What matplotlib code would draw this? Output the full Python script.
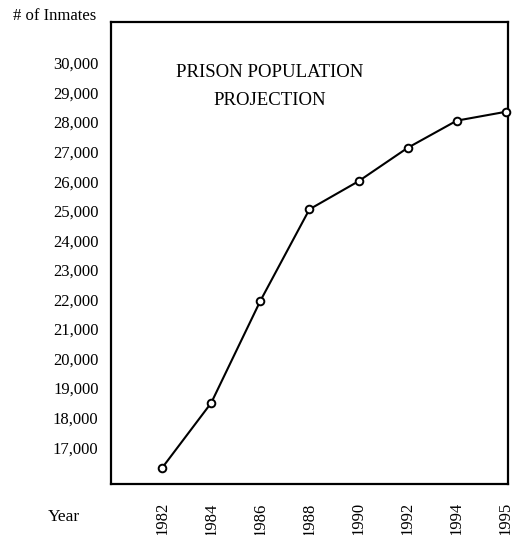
import matplotlib.pyplot as plt

years = ["1982", "1984", "1986", "1988", "1990", "1992", "1994", "1995"]
inmates = [16300, 18500, 21950, 25050, 26000, 27130, 28050, 28350]
yticks = [17000, 18000, 19000, 20000, 21000, 22000, 23000, 24000,
          25000, 26000, 27000, 28000, 29000, 30000]

plt.rcParams['font.family'] = ['Liberation Serif', 'DejaVu Serif']

fig = plt.figure(figsize=(5.14, 5.35), dpi=100)
ax = fig.add_axes([0.216, 0.095, 0.772, 0.864])

x = range(len(years))
ax.plot(x, inmates, color='black', lw=1.5, marker='o', ms=5.5,
        mfc='white', mec='black', mew=1.4, clip_on=False, zorder=3)

ax.set_xlim(-1.04, 7.04)
ax.set_ylim(15750, 31390)
ax.set_xticks(list(x))
ax.set_xticklabels(years, rotation=90, fontsize=12)
ax.set_yticks(yticks)
ax.set_yticklabels([f"{v:,}" for v in yticks], fontsize=12)
ax.tick_params(axis='y', length=0, pad=9)
ax.tick_params(axis='x', length=0, pad=13)

for s in ax.spines.values():
    s.set_linewidth(1.6)

ax.text(0.40, 0.89, "PRISON POPULATION", transform=ax.transAxes,
        ha='center', va='center', fontsize=13.5)
ax.text(0.40, 0.829, "PROJECTION", transform=ax.transAxes,
        ha='center', va='center', fontsize=13.5)

fig.text(13 / 514, 1 - 16 / 535, "# of Inmates", ha='left', va='center',
         fontsize=12)
fig.text(64 / 514, 1 - 517 / 535, "Year", ha='center', va='center',
         fontsize=12.5)

fig.savefig("out.png", dpi=100)
